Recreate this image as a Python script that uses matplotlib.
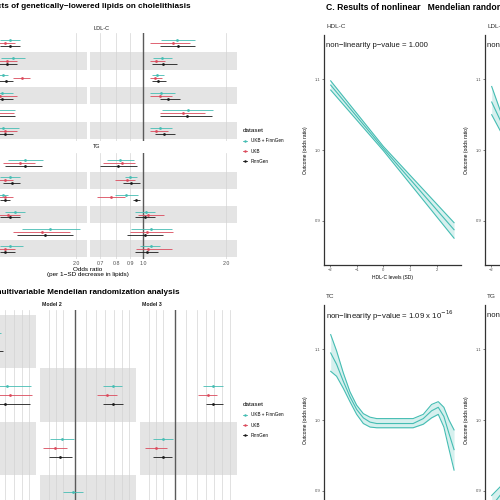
import numpy as np
import matplotlib.pyplot as plt
from matplotlib.lines import Line2D
from matplotlib.ticker import NullLocator, FixedLocator

plt.rcParams['font.family'] = ['Liberation Sans', 'DejaVu Sans']

W, H = 500, 500
nan = np.nan

datasets = ['UKB + FinnGen', 'UKB', 'FinnGen']
ds_colors = ['#45BDB3', '#DB4A5C', '#1a1a1a']

# ---- A: univariable MR, odds ratio per dataset (rows 1-6)
hdl_or = [[1.153, 1.182, 1.087, 1.078, 0.99, 1.087],
          [1.105, 1.124, 1.274, 1.06, 0.98, 1.105],
          [1.153, 1.124, 1.115, 1.078, 1.0, 1.105]]
hdl_lo = [[1.06, 1.07, 1.04, 0.98, 0.90, 0.99],
          [1.017, 1.035, 1.182, 0.95, 0.88, 1.0],
          [1.06, 1.03, 1.05, 0.98, 0.90, 1.03]]
hdl_hi = [[1.253, 1.306, 1.133, 1.182, 1.20, 1.243],
          [1.202, 1.222, 1.362, 1.222, 1.19, 1.222],
          [1.253, 1.222, 1.182, 1.182, 1.202, 1.182]]

ldl_or = [[1.328, 1.172, 1.124, 1.162, 1.456, 1.153],
          [1.285, 1.115, 1.105, 1.153, 1.397, 1.115],
          [1.339, 1.182, 1.133, 1.232, 1.444, 1.192]]
ldl_lo = [[1.162, 1.087, 1.078, 1.06, 1.172, 1.06],
          [1.06, 1.06, 1.06, 1.06, 1.153, 1.06],
          [1.153, 1.078, 1.078, 1.153, 1.153, 1.105]]
ldl_hi = [[1.544, 1.274, 1.192, 1.306, 1.794, 1.274],
          [1.48, 1.202, 1.172, 1.274, 1.678, 1.232],
          [1.544, 1.328, 1.212, 1.362, 1.779, 1.306]]

tc_or = [[1.306, 1.153, 1.087, 1.202, 1.61, 1.153],
         [1.253, 1.105, 1.105, 1.133, 1.505, 1.105],
         [1.306, 1.172, 1.105, 1.153, 1.544, 1.105]]
tc_lo = [[1.133, 1.06, 1.017, 1.105, 1.274, 1.06],
         [1.087, 1.017, 1.03, 1.03, 1.182, 1.017],
         [1.105, 1.087, 1.06, 1.06, 1.222, 1.06]]
tc_hi = [[1.518, 1.253, 1.133, 1.306, 2.07, 1.285],
         [1.42, 1.182, 1.182, 1.253, 1.90, 1.202],
         [1.505, 1.253, 1.153, 1.253, 1.95, 1.202]]

tg_or = [[0.825, 0.897, 0.868, 1.025, 1.069, 1.069],
         [0.839, 0.875, 0.765, 1.043, 1.034, 1.043],
         [0.81, 0.905, 0.943, 1.017, 1.017, 1.034]]
tg_lo = [[0.74, 0.86, 0.79, 0.935, 0.905, 0.975],
         [0.716, 0.79, 0.68, 0.959, 0.897, 0.943],
         [0.70, 0.846, 0.92, 0.935, 0.875, 0.935]]
tg_hi = [[0.928, 0.951, 0.959, 1.105, 1.274, 1.153],
         [0.935, 0.935, 0.86, 1.192, 1.285, 1.274],
         [0.951, 0.975, 0.975, 1.105, 1.182, 1.133]]

a_ticks = [0.7, 0.8, 0.9, 1.0, 2.0]
a_tick_labels = ['0.7', '0.8', '0.9', '1.0', '2.0']

# ---- B: multivariable MR (rows 1-4)
m1_or = [[1.19, 1.32, nan, nan], [1.05, 1.36, nan, nan], [1.16, 1.30, nan, nan]]
m1_lo = [[1.13, 1.07, nan, nan], [0.97, 1.12, nan, nan], [1.05, 1.05, nan, nan]]
m1_hi = [[1.25, 1.63, nan, nan], [1.14, 1.64, nan, nan], [1.275, 1.61, nan, nan]]
m2_or = [[nan, 1.39, 0.893, 0.985], [nan, 1.32, 0.84, 0.95], [nan, 1.39, 0.88, 0.97]]
m2_lo = [[nan, 1.28, 0.805, 0.90], [nan, 1.21, 0.76, 0.87], [nan, 1.28, 0.80, 0.89]]
m2_hi = [[nan, 1.51, 0.994, 1.069], [nan, 1.44, 0.933, 1.04], [nan, 1.52, 0.974, 1.06]]
m3_or = [[nan, 1.38, 0.90, nan], [nan, 1.32, 0.848, nan], [nan, 1.38, 0.90, nan]]
m3_lo = [[nan, 1.265, 0.826, nan], [nan, 1.22, 0.77, nan], [nan, 1.298, 0.826, nan]]
m3_hi = [[nan, 1.505, 0.983, nan], [nan, 1.43, 0.933, nan], [nan, 1.505, 0.974, nan]]
m1_bands = [1, 3]
m2_bands = [2, 4]
m3_bands = [3]
b_grid = [0.8, 0.85, 0.9, 1.1, 1.2, 1.3, 1.4, 1.5, 1.6]

# ---- C: nonlinear MR curves (lipid SD vs odds ratio)
hdl_x = [-1.97, 0.0, 2.64]
hdl_fit = [1.092, 1.002, 0.887]
hdl_low = [1.085, 0.999, 0.875]
hdl_up = [1.098, 1.005, 0.897]

ldl_x = [-1.97, -1.66, -1.3]
ldl_fit = [1.068, 1.043, 1.015]
ldl_low = [1.050, 1.028, 1.003]
ldl_up = [1.090, 1.057, 1.027]

tc_x = [-1.97, -1.75, -1.5, -1.25, -1.0, -0.75, -0.5, -0.25, 1.11, 1.49, 1.80, 2.05, 2.26, 2.45, 2.64]
tc_fit = [1.095, 1.079, 1.055, 1.033, 1.015, 1.003, 0.997, 0.995, 0.995, 1.002, 1.013, 1.018, 1.005, 0.981, 0.958]
tc_low = [1.069, 1.062, 1.045, 1.026, 1.008, 0.995, 0.990, 0.989, 0.989, 0.994, 1.003, 1.008, 0.990, 0.959, 0.929]
tc_up = [1.121, 1.098, 1.067, 1.040, 1.021, 1.009, 1.004, 1.002, 1.002, 1.008, 1.022, 1.026, 1.018, 1.000, 0.986]

tg_x = [-1.97, -1.66, -1.3]
tg_fit = [0.878, 0.893, 0.91]
tg_low = [0.862, 0.880, 0.90]
tg_up = [0.893, 0.905, 0.92]

fig = plt.figure(figsize=(5, 5), dpi=100)


def px_ax(x0, y0, x1, y1):
    return fig.add_axes([x0 / W, 1 - y1 / H, (x1 - x0) / W, (y1 - y0) / H])


def ftext(x, y, s, **kw):
    fig.text(x / W, 1 - y / H, s, **kw)


def forest(ax, est, lo, hi, nrows, bands, xlim, grid, ticks=None, labels=None):
    ax.set_xscale('log')
    ax.set_xlim(xlim)
    ax.set_ylim(nrows + 0.6, 0.4)
    for r in bands:
        ax.axhspan(r - 0.5, r + 0.5, color='#e4e4e4', lw=0, zorder=0)
    for g in grid:
        ax.axvline(g, color='#d4d4d4', lw=0.5, zorder=1)
    ax.axvline(1.0, color='#5a5a5a', lw=1.0, zorder=2)
    rows = np.arange(1, nrows + 1)
    for d in range(3):
        y = rows + (d - 1) * 0.17
        ax.hlines(y, lo[d], hi[d], color=ds_colors[d], lw=0.6, zorder=3)
        ax.plot(est[d], y, 'o', color=ds_colors[d], ms=2.0, mew=0, zorder=4)
    for s in ax.spines.values():
        s.set_visible(False)
    ax.set_yticks([])
    ax.xaxis.set_minor_locator(NullLocator())
    if ticks:
        ax.xaxis.set_major_locator(FixedLocator(ticks))
        ax.set_xticklabels(labels)
        ax.tick_params(axis='x', length=0, pad=1.5, labelsize=3.8, labelcolor='#4d4d4d')
    else:
        ax.set_xticks([])


# ---------------- Panel A
a_xlim = (0.642, 2.192)
a_grid = [0.7, 0.8, 0.9, 2.0]
ax = px_ax(-60, 33, 87, 141)
forest(ax, hdl_or, hdl_lo, hdl_hi, 6, [2, 4, 6], a_xlim, a_grid)
ax = px_ax(90, 33, 237, 141)
forest(ax, ldl_or, ldl_lo, ldl_hi, 6, [2, 4, 6], a_xlim, a_grid)
ax = px_ax(-60, 153, 87, 259)
# only the 2.0 label of the left facet falls inside the picture
forest(ax, tc_or, tc_lo, tc_hi, 6, [2, 4, 6], a_xlim, a_grid, a_ticks[-1:], a_tick_labels[-1:])
ax = px_ax(90, 153, 237, 259)
forest(ax, tg_or, tg_lo, tg_hi, 6, [2, 4, 6], a_xlim, a_grid, a_ticks, a_tick_labels)

strip = dict(fontsize=4, color='#1a1a1a', va='center', ha='left')
ftext(93, 29, 'LDL-C', **strip)
ftext(93, 147, 'TG', **strip)
ftext(88, 272, 'Odds ratio\n(per 1\u2212SD decrease in lipids)', fontsize=4.6,
      ha='center', va='center', linespacing=1.1)

ftext(191, 7, 'A. Effects of genetically\u2212lowered lipids on cholelithiasis',
      ha='right', va='center', fontsize=5.9, weight='bold')

# ---------------- Panel B
b_xlim = (0.738, 1.70)
ax = px_ax(-60, 310, 36, 533)
forest(ax, m1_or, m1_lo, m1_hi, 4, m1_bands, b_xlim, b_grid)
ax = px_ax(40, 310, 136, 533)
forest(ax, m2_or, m2_lo, m2_hi, 4, m2_bands, b_xlim, b_grid)
ax = px_ax(140, 310, 237, 533)
forest(ax, m3_or, m3_lo, m3_hi, 4, m3_bands, b_xlim, b_grid)

mstrip = dict(fontsize=3.8, color='#1a1a1a', va='center', ha='left', weight='bold')
ftext(42, 304, 'Model 2', **mstrip)
ftext(142, 304, 'Model 3', **mstrip)

ftext(180, 292, 'B. Results of multivariable Mendelian randomization analysis',
      ha='right', va='center', fontsize=5.9, weight='bold')

# legends
handles = [Line2D([], [], color=c, marker='o', ms=1.8, mew=0, lw=0.6) for c in ds_colors]
for ytop in (128, 402):
    fig.legend(handles, datasets, title='dataset', loc='upper left',
               bbox_to_anchor=(243 / W, 1 - ytop / H), frameon=False,
               fontsize=3.3, title_fontsize=4.6, handlelength=0.9,
               handletextpad=0.8, labelspacing=1.15, alignment='left',
               borderaxespad=0, borderpad=0)

# ---------------- Panel C
c_xlim = (-2.22, 2.90)
c_ylim = (0.837, 1.163)
teal = ds_colors[0]


def curve(ax, x, fit, low, up, label, pval, xticks, xlabel=None):
    ax.fill_between(x, low, up, color=teal, alpha=0.22, lw=0)
    for yy in (low, fit, up):
        ax.plot(x, yy, color=teal, lw=0.8)
    ax.set_xlim(c_xlim)
    ax.set_ylim(c_ylim)
    ax.set_yticks([0.9, 1.0, 1.1])
    ax.set_yticklabels(['0.9', '1.0', '1.1'])
    ax.set_xticks(xticks)
    ax.set_xticklabels([str(t).replace('-', '\u2212') for t in xticks])
    ax.tick_params(labelsize=3, length=1.5, width=0.5, pad=1, colors='#4d4d4d')
    for s in ('top', 'right'):
        ax.spines[s].set_visible(False)
    for s in ('left', 'bottom'):
        ax.spines[s].set_linewidth(0.9)
        ax.spines[s].set_color('#333333')
    ax.set_ylabel('Outcome (odds ratio)', fontsize=3.6, labelpad=5)
    if xlabel:
        ax.set_xlabel(xlabel, fontsize=3.6, labelpad=1.5)
    ax.text(0.015, 1.025, label, transform=ax.transAxes, fontsize=4.6,
            ha='left', va='bottom', color='#333333')
    ax.text(0.015, 0.955, pval, transform=ax.transAxes, fontsize=5.6,
            ha='left', va='center', color='#1a1a1a')


ax = px_ax(324, 35, 461, 265)
curve(ax, hdl_x, hdl_fit, hdl_low, hdl_up, 'HDL-C', 'non\u2212linearity p\u2212value = 1.000',
      [-2, -1, 0, 1, 2], 'HDL-C levels (SD)')
# right column: only its left edge lies inside the picture
ax = px_ax(485, 35, 622, 265)
curve(ax, ldl_x, ldl_fit, ldl_low, ldl_up, 'LDL-C', 'non\u2212linearity p\u2212value = 0.041',
      [-2])
ax = px_ax(324, 305, 461, 535)
curve(ax, tc_x, tc_fit, tc_low, tc_up, 'TC',
      'non\u2212linearity p\u2212value = 1.09 x 10$^{\u221216}$', [-2, -1, 0, 1, 2])
ax = px_ax(485, 305, 622, 535)
curve(ax, tg_x, tg_fit, tg_low, tg_up, 'TG', 'non\u2212linearity p\u2212value = 0.003',
      [-2])

ftext(326, 8, 'C. Results of nonlinear   Mendelian randomization analysis',
      ha='left', va='center', fontsize=6.2, weight='bold')

fig.savefig('out.png', dpi=100)
